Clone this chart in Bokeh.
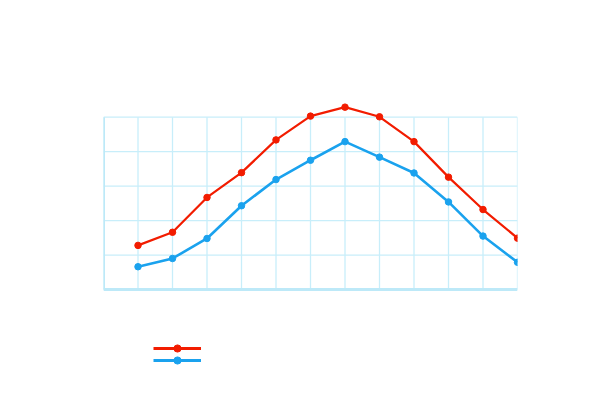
from bokeh.plotting import figure
from bokeh.models import Range1d, Legend, LegendItem
from bokeh.embed import file_html
from bokeh.resources import INLINE

months = [1, 2, 3, 4, 5, 6, 7, 8, 9, 10, 11, 12]
series_red = [12.8, 16.6, 26.7, 33.9, 43.4, 50.3, 52.9, 50.1, 42.9, 32.6, 23.2, 14.9]
series_blue = [6.6, 9.0, 14.8, 24.3, 31.9, 37.5, 42.9, 38.4, 33.8, 25.4, 15.5, 7.9]
x_ticks = [0, 1, 2, 3, 4, 5, 6, 7, 8, 9, 10, 11, 12]
y_ticks = [0, 10, 20, 30, 40, 50]

RED = "#f21c00"
BLUE = "#1aa2ee"
GRID = "#c8eefa"
BORDER = "#bde9f8"

x_lo, x_hi = min(x_ticks), max(x_ticks)
y_lo, y_hi = min(y_ticks), max(y_ticks)
nan = float("nan")

p = figure(width=584, height=384, output_backend="svg", toolbar_location=None,
           x_axis_location=None, y_axis_location=None,
           x_range=Range1d(0, 12), y_range=Range1d(-27.56, 83.84),
           min_border_left=103, min_border_right=67, min_border_top=0, min_border_bottom=0)
p.outline_line_color = None
p.grid.visible = False

# grid box
p.segment(x0=x_ticks, y0=[y_lo] * len(x_ticks), x1=x_ticks, y1=[y_hi] * len(x_ticks),
          line_color=GRID, line_width=1.3)
p.segment(x0=[x_lo] * len(y_ticks), y0=y_ticks, x1=[x_hi] * len(y_ticks), y1=y_ticks,
          line_color=GRID, line_width=1.3)
p.segment(x0=[x_lo, x_lo], y0=[y_lo, y_lo], x1=[x_lo, x_hi], y1=[y_hi, y_lo],
          line_color=BORDER, line_width=3)

lr = p.line(months, series_red, line_color=RED, line_width=2.2)
sr = p.scatter(months, series_red, size=6.5, fill_color=RED, line_color=RED)
lb = p.line(months, series_blue, line_color=BLUE, line_width=2.6)
sb = p.scatter(months, series_blue, size=6.5, fill_color=BLUE, line_color=BLUE)

# legend-only glyphs (thicker, as in the legend of the reference)
glr = p.line([months[0]], [nan], line_color=RED, line_width=3.2)
gsr = p.scatter([months[0]], [nan], size=8, fill_color=RED, line_color=RED)
glb = p.line([months[0]], [nan], line_color=BLUE, line_width=3.2)
gsb = p.scatter([months[0]], [nan], size=8, fill_color=BLUE, line_color=BLUE)

common = dict(padding=0, margin=0, spacing=0, glyph_width=48, glyph_height=18,
              label_height=18, label_standoff=0, label_text_font_size="8px",
              border_line_alpha=0, background_fill_alpha=0)
legend_red = Legend(items=[LegendItem(label=" ", renderers=[glr, gsr])],
                    location=(50, 27), **common)
legend_blue = Legend(items=[LegendItem(label=" ", renderers=[glb, gsb])],
                     location=(50, 15), **common)
p.add_layout(legend_red)
p.add_layout(legend_blue)

open("out.html", "w").write(file_html(p, INLINE))
